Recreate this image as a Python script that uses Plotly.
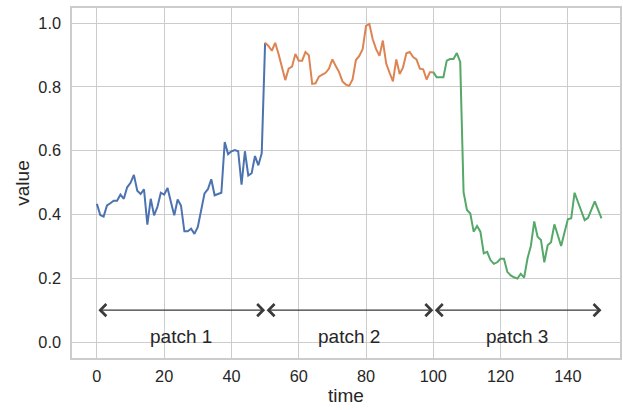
import plotly.graph_objects as go

# ---- data ----
time = list(range(0, 151))
values = [
    0.433, 0.398, 0.393, 0.428, 0.435, 0.443, 0.443, 0.462, 0.449, 0.485,
    0.499, 0.524, 0.474, 0.464, 0.479, 0.368, 0.449, 0.397, 0.424, 0.468,
    0.462, 0.483, 0.439, 0.397, 0.447, 0.428, 0.347, 0.347, 0.355, 0.339,
    0.361, 0.418, 0.466, 0.479, 0.510, 0.460, 0.464, 0.468, 0.627, 0.589,
    0.598, 0.602, 0.598, 0.493, 0.598, 0.522, 0.529, 0.583, 0.554, 0.592,
    0.938, 0.928, 0.913, 0.938, 0.903, 0.863, 0.821, 0.857, 0.863, 0.903,
    0.882, 0.882, 0.909, 0.899, 0.809, 0.811, 0.832, 0.838, 0.844, 0.857,
    0.886, 0.865, 0.846, 0.817, 0.807, 0.803, 0.823, 0.884, 0.897, 0.918,
    0.991, 0.997, 0.949, 0.918, 0.897, 0.945, 0.873, 0.844, 0.817, 0.886,
    0.840, 0.861, 0.905, 0.909, 0.893, 0.886, 0.857, 0.855, 0.823, 0.846,
    0.846, 0.830, 0.830, 0.830, 0.882, 0.887, 0.887, 0.906, 0.878, 0.470,
    0.414, 0.403, 0.346, 0.364, 0.346, 0.278, 0.283, 0.257, 0.245, 0.250,
    0.261, 0.261, 0.220, 0.209, 0.203, 0.199, 0.214, 0.202, 0.262, 0.301,
    0.378, 0.330, 0.320, 0.250, 0.303, 0.313, 0.369, 0.335, 0.301, 0.343,
    0.385, 0.388, 0.468, 0.439, 0.408, 0.382, 0.389, 0.414, 0.441, 0.414,
    0.388,
]
patch_bounds = [0, 50, 100, 150]
patch_labels = ["patch 1", "patch 2", "patch 3"]
patch_colors = ["#4C72B0", "#DD8452", "#55A868"]
arrow_y = 0.1
label_y = 0.017
x_ticks = [0, 20, 40, 60, 80, 100, 120, 140]
y_ticks = [0.0, 0.2, 0.4, 0.6, 0.8, 1.0]

FONT = "Liberation Sans, Arial, sans-serif"
fig = go.Figure()

for i, lab in enumerate(patch_labels):
    b0, b1 = patch_bounds[i], patch_bounds[i + 1]
    fig.add_trace(go.Scatter(
        x=time[b0:b1 + 1], y=values[b0:b1 + 1], mode="lines",
        line=dict(color=patch_colors[i], width=2), showlegend=False,
    ))
    fig.add_annotation(
        x=b1, y=arrow_y, ax=b0, ay=arrow_y, xref="x", yref="y",
        axref="x", ayref="y", text="", showarrow=True,
        arrowside="end+start", arrowhead=4, startarrowhead=4,
        arrowsize=1.8, startarrowsize=1.8, arrowwidth=1.3,
        arrowcolor="#3a3a3a", standoff=0, startstandoff=0,
    )
    fig.add_annotation(
        x=(b0 + b1) / 2, y=label_y, xref="x", yref="y", text=lab,
        showarrow=False, yanchor="middle",
        font=dict(family=FONT, size=19, color="#262626"),
    )

axis_common = dict(
    showgrid=True, gridcolor="#cccccc", gridwidth=1.2,
    showline=True, linecolor="#cccccc", linewidth=1.5, mirror=True,
    zeroline=False, ticks="", tickfont=dict(family=FONT, size=16.3, color="#262626"),
    title_font=dict(family=FONT, size=19, color="#262626"),
)

fig.update_xaxes(range=[-7.4, 155.5], tickvals=x_ticks, title_text="time",
                 title_standoff=2, ticklabelstandoff=3, **axis_common)
fig.update_yaxes(range=[-0.05, 1.047], tickvals=y_ticks, tickformat=".1f",
                 title_text="value", title_standoff=4, ticklabelstandoff=6,
                 **axis_common)

fig.update_layout(
    width=623, height=410,
    margin=dict(l=72, r=3, t=8, b=52, autoexpand=False),
    paper_bgcolor="white", plot_bgcolor="white",
    font=dict(family=FONT, color="#262626"),
)

fig.write_html("out.html")
